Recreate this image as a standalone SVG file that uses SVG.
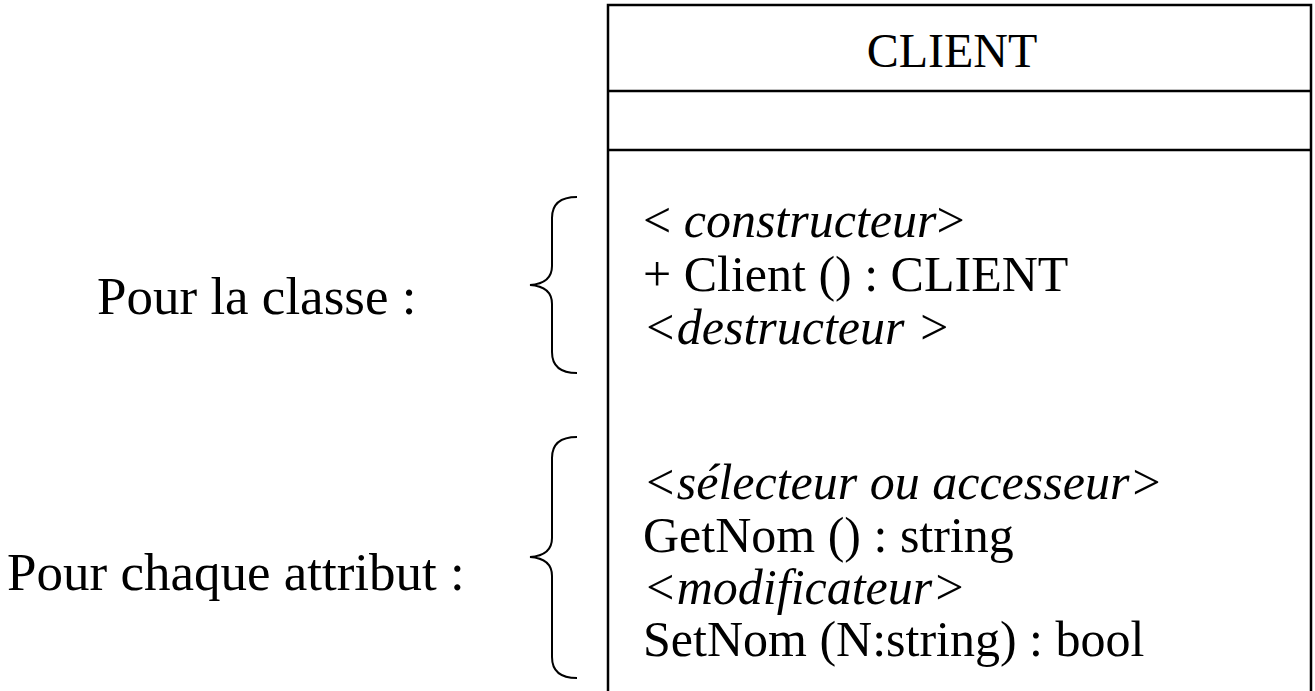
<svg xmlns="http://www.w3.org/2000/svg" width="1315" height="691" viewBox="0 0 1315 691">
  <style>
    .t { font-family: "Liberation Serif", "Times New Roman", serif; font-size: 50px; fill: #000; }
    .title { font-size: 48px; }
    .side { font-size: 53px; }
    .it { font-style: italic; }
    .ln { stroke: #000; stroke-width: 2.5; fill: none; }
    .brace { stroke: #000; stroke-width: 2; fill: none; }
  </style>
  <rect x="0" y="0" width="1315" height="691" fill="#fff"/>

  <!-- class box CLIENT -->
  <g id="client">
    <path class="ln" d="M608,700 V5 H1311 V700"/>
    <line class="ln" x1="608" y1="91" x2="1311" y2="91"/>
    <line class="ln" x1="608" y1="150" x2="1311" y2="150"/>
    <text class="t title" x="952" y="67" text-anchor="middle">CLIENT</text>
    <text class="t" x="643" y="237">&lt; <tspan class="it">constructeur</tspan>&gt;</text>
    <text class="t" x="643" y="291">+ Client () : CLIENT</text>
    <text class="t it" x="643" y="344">&lt;destructeur &gt;</text>
    <text class="t it" x="643" y="499">&lt;sélecteur ou accesseur&gt;</text>
    <text class="t" x="643" y="552">GetNom () : string</text>
    <text class="t it" x="643" y="604">&lt;modificateur&gt;</text>
    <text class="t" x="643" y="656">SetNom (N:string) : bool</text>
  </g>

  <!-- label for class-level operations -->
  <g id="label-classe">
    <path class="brace" d="M577,197 C560,197 552,204 552,218 V266 C552,277 545,284 530,285 C545,286 552,293 552,304 V352 C552,366 560,373 577,373"/>
    <text class="t side" x="97" y="314">Pour la classe :</text>
  </g>

  <!-- label for per-attribute operations -->
  <g id="label-attribut">
    <path class="brace" d="M577,437 C560,437 552,444 552,458 V538 C552,549 545,556 530,557 C545,558 552,565 552,576 V657 C552,671 560,678 577,678"/>
    <text class="t side" x="7" y="590">Pour chaque attribut :</text>
  </g>
</svg>
